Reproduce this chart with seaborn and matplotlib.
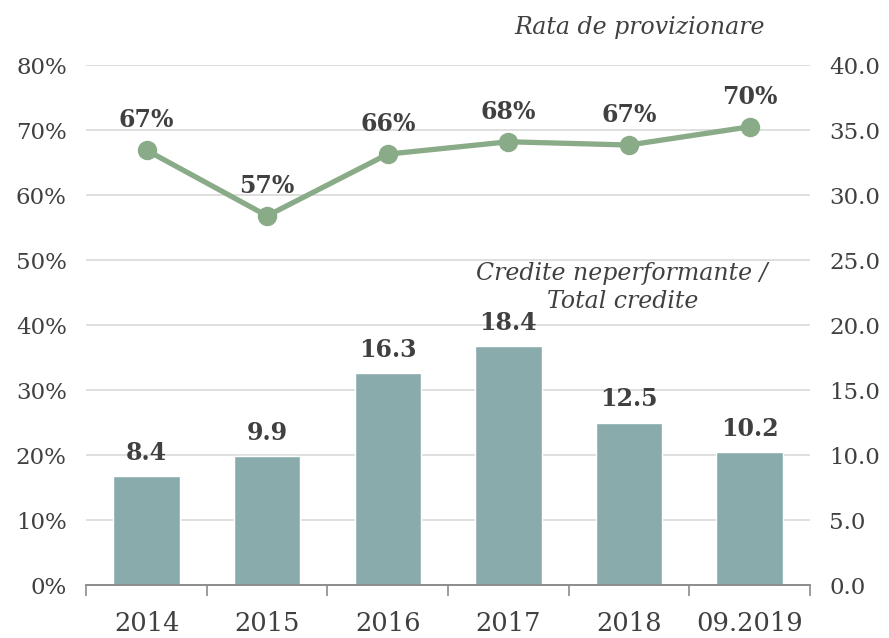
import matplotlib
matplotlib.use('Agg')
import matplotlib.pyplot as plt
import seaborn as sns
import pandas as pd
from matplotlib.ticker import FuncFormatter, FixedLocator

ani = ['2014', '2015', '2016', '2017', '2018', '09.2019']
credite_npl = [8.4, 9.9, 16.3, 18.4, 12.5, 10.2]
rata_prov = [0.669, 0.568, 0.663, 0.682, 0.677, 0.705]
etichete_prov = ['67%', '57%', '66%', '68%', '67%', '70%']

gri = '#404040'
culoare_bare = '#8aabab'
culoare_linie = '#8aab87'

sns.set_style('white')
plt.rcParams['font.family'] = ['DejaVu Serif']

df = pd.DataFrame({'an': ani, 'npl': credite_npl, 'prov': rata_prov})

fig = plt.figure(figsize=(8.89, 6.38), dpi=100)
ax = fig.add_axes([0.097, 0.083, 0.814, 0.815])
ax2 = ax.twinx()

# bare - axa din dreapta
sns.barplot(data=df, x='an', y='npl', color=culoare_bare, width=0.55,
            saturation=1, ax=ax)
ax.set_ylim(0, 40)
ax.set_xlim(-0.5, 5.5)
ax.set_yticks(range(0, 45, 5))
ax.yaxis.set_major_formatter(FuncFormatter(lambda v, p: f'{v:.1f}'))
ax.grid(axis='y', color='#d9d9d9', linewidth=1.2)
ax.set_axisbelow(True)
for b, v in zip(ax.patches, credite_npl):
    ax.annotate(f'{v:.1f}', (b.get_x() + b.get_width() / 2, b.get_height()),
                xytext=(0, 8), textcoords='offset points', ha='center',
                va='bottom', fontsize=17, fontweight='bold', color=gri)

# linie - axa din stanga
sns.lineplot(x=list(range(len(ani))), y=rata_prov, color=culoare_linie,
             linewidth=3.8, marker='o', markersize=14, markeredgewidth=0,
             ax=ax2)
ax2.set_ylim(0, 0.8)
ax2.set_xlim(-0.5, 5.5)
ax2.set_yticks([i / 10 for i in range(9)])
ax2.yaxis.set_major_formatter(FuncFormatter(lambda v, p: f'{v*100:.0f}%'))
for i, (v, t) in enumerate(zip(rata_prov, etichete_prov)):
    ax2.annotate(t, (i, v), xytext=(0, 13), textcoords='offset points',
                 ha='center', va='bottom', fontsize=17, fontweight='bold',
                 color=gri)

ax.yaxis.tick_right()
ax2.yaxis.tick_left()

for a in (ax, ax2):
    for s in ['top', 'left', 'right']:
        a.spines[s].set_visible(False)
    a.spines['bottom'].set_color('#8c8c8c')
    a.spines['bottom'].set_linewidth(1.2)
    a.tick_params(axis='y', length=0, labelsize=16.5, labelcolor=gri, pad=14)
    a.set_xlabel('')
    a.set_ylabel('')

ax.set_xticks(range(len(ani)))
ax.set_xticklabels(ani)
ax.xaxis.set_minor_locator(FixedLocator([i - 0.5 for i in range(len(ani) + 1)]))
ax.tick_params(axis='x', which='major', length=0, labelsize=18.5,
               labelcolor=gri, pad=19)
ax.tick_params(axis='x', which='minor', length=8, width=1.2,
               color='#8c8c8c', direction='out', bottom=True)
ax2.tick_params(axis='x', which='both', bottom=False, labelbottom=False)

fig.text(0.72, 0.957, 'Rata de provizionare', ha='center', va='center',
         fontsize=17, style='italic', color=gri)
fig.text(0.70, 0.549, 'Credite neperformante /\nTotal credite', ha='center',
         va='center', fontsize=17, style='italic', color=gri, linespacing=1.3)

fig.savefig('out.png', dpi=100)
